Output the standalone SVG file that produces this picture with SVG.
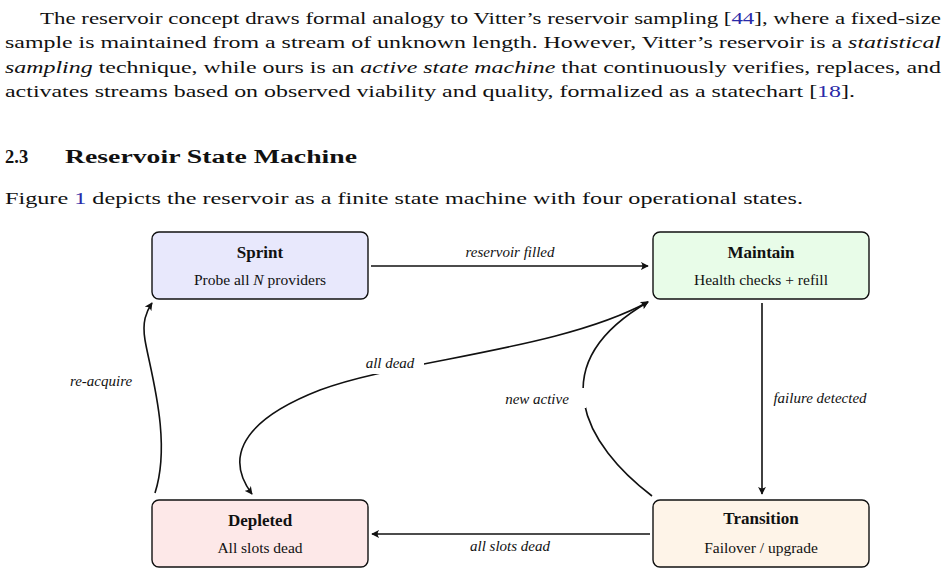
<svg xmlns="http://www.w3.org/2000/svg" width="948" height="575" viewBox="0 0 948 575">
<style>
text{font-family:"Liberation Serif","DejaVu Serif",serif;fill:#111}
.p{font-size:17.5px}
.t{font-size:17px;font-weight:bold;text-anchor:middle}
.s{font-size:15.5px;text-anchor:middle}
.l{font-size:15px;font-style:italic;text-anchor:middle}
.box{stroke:#111;stroke-width:1.4}
.c{fill:none;stroke:#111;stroke-width:1.6}
</style>
<defs>
<marker id="a" viewBox="0 0 10 10" refX="9" refY="5" markerWidth="8" markerHeight="8" orient="auto-start-reverse" markerUnits="userSpaceOnUse"><path d="M0,0 Q4,5 0,10 L10,5 Z" fill="#111"/></marker>
</defs>
<rect width="948" height="575" fill="#fff"/>
<text class="p" x="40" y="24" textLength="901" lengthAdjust="spacingAndGlyphs">The reservoir concept draws formal analogy to Vitter’s reservoir sampling [<tspan fill="#2a2aa8">44</tspan>], where a fixed-size</text>
<text class="p" x="5" y="48" textLength="936" lengthAdjust="spacingAndGlyphs">sample is maintained from a stream of unknown length. However, Vitter’s reservoir is a <tspan font-style="italic">statistical</tspan></text>
<text class="p" x="5" y="73" textLength="936" lengthAdjust="spacingAndGlyphs"><tspan font-style="italic">sampling</tspan> technique, while ours is an <tspan font-style="italic">active state machine</tspan> that continuously verifies, replaces, and</text>
<text class="p" x="5" y="97" textLength="850" lengthAdjust="spacingAndGlyphs">activates streams based on observed viability and quality, formalized as a statechart [<tspan fill="#2a2aa8">18</tspan>].</text>
<text x="5" y="163" font-size="18.5" font-weight="bold">2.3</text>
<text x="65" y="163" font-size="18.5" font-weight="bold" textLength="292" lengthAdjust="spacingAndGlyphs">Reservoir State Machine</text>
<text class="p" x="5" y="204" textLength="798" lengthAdjust="spacingAndGlyphs">Figure <tspan fill="#2a2aa8">1</tspan> depicts the reservoir as a finite state machine with four operational states.</text>

<g id="connectors">
<path class="c" d="M371,266 H648" marker-end="url(#a)"/>
<path class="c" d="M762,303 V494" marker-end="url(#a)"/>
<path class="c" d="M650,534 H372" marker-end="url(#a)"/>
<path class="c" d="M652,496 C585,445 540,365 648,302" marker-end="url(#a)"/>
<path class="c" d="M648,302 C560,350 400,360 320,390 C230,425 230,465 252,494" marker-start="url(#a)" marker-end="url(#a)"/>
<path class="c" d="M155,493 C172,440 150,370 145,340 C142,322 146,312 152,303" marker-end="url(#a)"/>
<rect x="60" y="372" width="82" height="20" fill="#fff"/>
<rect x="356" y="354" width="68" height="20" fill="#fff"/>
<rect x="490" y="388" width="96" height="20" fill="#fff"/>
<text class="l" x="510" y="257">reservoir filled</text>
<text class="l" x="820" y="403">failure detected</text>
<text class="l" x="510" y="551">all slots dead</text>
<text class="l" x="390" y="368">all dead</text>
<text class="l" x="537" y="404">new active</text>
<text class="l" x="101" y="386">re-acquire</text>
</g>
<g id="sprint"><rect class="box" x="152" y="232" width="216" height="67" rx="7" fill="#e8e8fc"/><text class="t" x="260" y="258">Sprint</text><text class="s" x="260" y="285">Probe all <tspan font-style="italic">N</tspan> providers</text></g>
<g id="maintain"><rect class="box" x="653" y="232" width="216" height="67" rx="7" fill="#e8fce8"/><text class="t" x="761" y="258">Maintain</text><text class="s" x="761" y="285">Health checks + refill</text></g>
<g id="depleted"><rect class="box" x="152" y="500" width="216" height="67" rx="7" fill="#fde8e8"/><text class="t" x="260" y="526">Depleted</text><text class="s" x="260" y="553">All slots dead</text></g>
<g id="transition"><rect class="box" x="653" y="500" width="216" height="67" rx="7" fill="#fef4e8"/><text class="t" x="761" y="524">Transition</text><text class="s" x="761" y="553">Failover / upgrade</text></g>
</svg>
